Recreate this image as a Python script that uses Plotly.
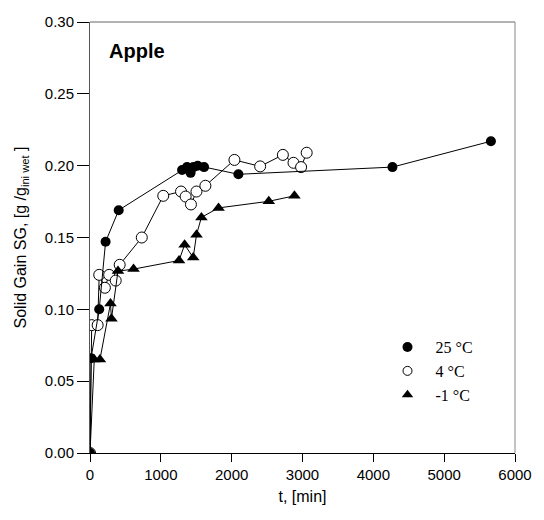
import plotly.graph_objects as go

t25 = [0, 15, 130, 220, 405, 1300, 1370, 1420, 1460, 1520, 1610, 2095, 4270, 5660]
sg25 = [0.0, 0.066, 0.100, 0.147, 0.169, 0.197, 0.199, 0.195, 0.199, 0.200, 0.199, 0.194, 0.199, 0.217]

t4 = [0, 24, 108, 130, 210, 270, 363, 419, 731, 1034, 1285, 1350, 1425, 1503, 1629, 2039, 2402, 2723, 2873, 2980, 3059]
sg4 = [0.0, 0.089, 0.089, 0.124, 0.115, 0.124, 0.120, 0.131, 0.150, 0.179, 0.182, 0.1785, 0.173, 0.182, 0.186, 0.204, 0.1995, 0.2075, 0.202, 0.199, 0.209]

tm1 = [0, 60, 140, 289, 303, 395, 615, 1257, 1336, 1457, 1504, 1573, 1815, 2524, 2886]
sgm1 = [0.0, 0.065, 0.065, 0.104, 0.0935, 0.1266, 0.128, 0.134, 0.145, 0.136, 0.152, 0.164, 0.1706, 0.1752, 0.179]

names = ["25 °C", "4 °C", "-1 °C"]
xticks = [0, 1000, 2000, 3000, 4000, 5000, 6000]
yticks = [0, 0.05, 0.10, 0.15, 0.20, 0.25, 0.30]

fig = go.Figure()
line = dict(color="black", width=1)
fig.add_trace(go.Scatter(x=t4, y=sg4, mode="lines+markers", line=line, showlegend=False,
                         marker=dict(symbol="circle", size=11, color="white", line=dict(color="black", width=1))))
fig.add_trace(go.Scatter(x=tm1, y=sgm1, mode="lines+markers", line=line, showlegend=False,
                         marker=dict(symbol="triangle-up", size=11, color="black")))
fig.add_trace(go.Scatter(x=t25, y=sg25, mode="lines+markers", line=line, showlegend=False,
                         marker=dict(symbol="circle", size=10, color="black")))

# legend entries
nb = "\u00a0\u00a0"
fig.add_trace(go.Scatter(x=[None], y=[None], mode="markers", name=nb + names[0],
                         marker=dict(symbol="circle", size=10, color="black")))
fig.add_trace(go.Scatter(x=[None], y=[None], mode="markers", name=nb + names[1],
                         marker=dict(symbol="circle", size=9, color="white", line=dict(color="black", width=1))))
fig.add_trace(go.Scatter(x=[None], y=[None], mode="markers", name=nb + names[2],
                         marker=dict(symbol="triangle-up", size=10, color="black")))

tick_font = dict(family="Liberation Sans, Arial", size=15, color="black")
title_font = dict(family="Liberation Sans, Arial", size=16, color="black")
fig.update_layout(
    width=544, height=520,
    margin=dict(l=90, r=24, t=22, b=67),
    plot_bgcolor="white", paper_bgcolor="white",
    font=tick_font,
    xaxis=dict(range=[0, 6000], tickvals=xticks,
               ticks="outside", ticklen=8, tickcolor="black", showgrid=False, zeroline=False,
               showline=True, linecolor="black", linewidth=1, tickfont=tick_font,
               title=dict(text="t, [min]", font=title_font, standoff=8)),
    yaxis=dict(range=[0, 0.30], tickvals=yticks, tickformat=".2f",
               ticks="outside", ticklen=12, tickcolor="black", showgrid=False, zeroline=False,
               showline=True, linecolor="#555", linewidth=1, tickfont=tick_font,
               title=dict(text="Solid Gain SG, [g /g<sub>ini wet</sub> ]", font=title_font, standoff=14)),
    legend=dict(x=0.7, y=0.285, xanchor="left", yanchor="top", bgcolor="rgba(0,0,0,0)",
                font=dict(family="Liberation Serif, Times New Roman", size=16, color="black"),
                itemwidth=30, tracegroupgap=0),
    annotations=[dict(text="<b>Apple</b>", x=0.04, y=0.933, xref="paper", yref="paper",
                      xanchor="left", yanchor="middle", showarrow=False,
                      font=dict(family="Liberation Sans, Arial", size=20, color="black"))],
    shapes=[
        dict(type="line", xref="paper", yref="paper", x0=0, x1=1, y0=1, y1=1,
             line=dict(color="#666", width=1)),
        dict(type="line", xref="paper", yref="paper", x0=1, x1=1, y0=0, y1=1,
             line=dict(color="#888", width=1)),
    ],
)
fig.write_html("out.html")
